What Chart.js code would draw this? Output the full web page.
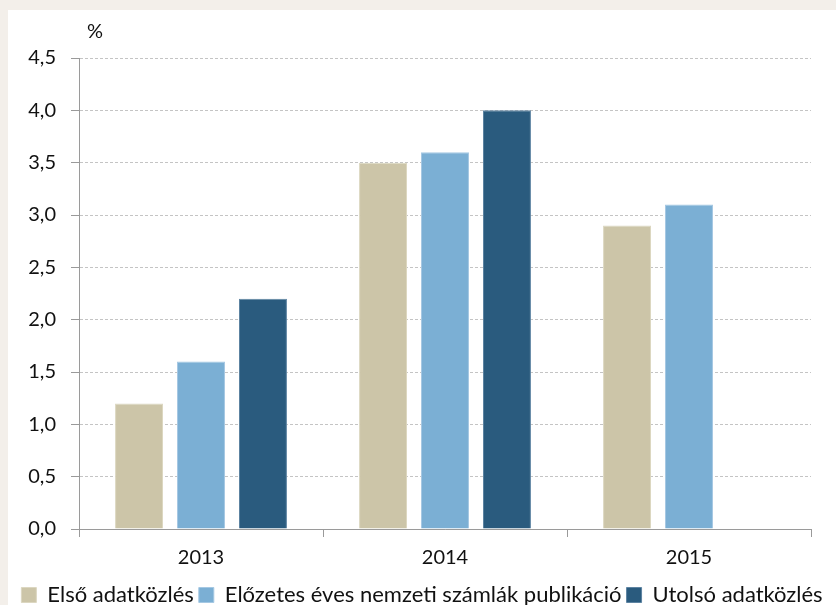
<!DOCTYPE html>
<html>
<head>
<meta charset="utf-8">
<script src="https://cdn.jsdelivr.net/npm/chart.js@4.4.1/dist/chart.umd.min.js"></script>
<style>
  html, body { margin: 0; padding: 0; background: #f3efea; }
  #wrap { position: absolute; left: 8px; top: 10px; width: 828px; height: 595px; background: #ffffff; }
</style>
</head>
<body>
<div id="wrap"><canvas id="barchart"></canvas></div>
<script>
// ==========================================
// Adatok
// ==========================================
const years = ['2013', '2014', '2015'];
const firstRelease = [1.2, 3.5, 2.9];
const prelimAccounts = [1.6, 3.6, 3.1];
const lastRelease = [2.2, 4.0, null];
const seriesNames = ['Első adatközlés', 'Előzetes éves nemzeti számlák publikáció', 'Utolsó adatközlés'];
const yTicks = [0, 0.5, 1, 1.5, 2, 2.5, 3, 3.5, 4, 4.5];
const unitLabel = '%';

const FONT = 'Lato, "Open Sans", sans-serif';

// "%" felirat a tengely fölött
const unitPlugin = {
    id: 'unitLabel',
    afterDraw(chart) {
        const ctx = chart.ctx;
        const y = chart.scales.y;
        ctx.save();
        ctx.font = '20px ' + FONT;
        ctx.fillStyle = '#111111';
        ctx.textBaseline = 'middle';
        ctx.fillText(unitLabel, y.right + 8, 22);
        ctx.restore();
    }
};

new Chart(document.getElementById('barchart'), {
    type: 'bar',
    data: {
        labels: years,
        datasets: [
            { label: seriesNames[0], data: firstRelease, backgroundColor: '#ccc5a8', borderColor: '#dcd7c1', borderWidth: 1 },
            { label: seriesNames[1], data: prelimAccounts, backgroundColor: '#7bafd4', borderColor: '#a5c8e3', borderWidth: 1 },
            { label: seriesNames[2], data: lastRelease, backgroundColor: '#2a5b7e', borderColor: '#5e84a2', borderWidth: 1 }
        ]
    },
    options: {
        responsive: true,
        maintainAspectRatio: false,
        animation: false,
        categoryPercentage: 0.762,
        barPercentage: 0.774,
        layout: { padding: { top: 48, right: 0, left: 0, bottom: -11 } },
        plugins: {
            tooltip: { enabled: false },
            legend: {
                position: 'bottom',
                labels: {
                    color: '#111111',
                    font: { family: FONT, size: 22 },
                    boxWidth: 15,
                    boxHeight: 15,
                    padding: 5
                }
            }
        },
        scales: {
            y: {
                min: 0,
                max: 4.5,
                afterBuildTicks: (s) => { s.ticks = yTicks.map(v => ({ value: v })); },
                afterFit: (s) => { s.width = 71; },
                grid: { color: '#c4c4c4', tickColor: '#9a9a9a', tickLength: 8, tickBorderDash: [] },
                border: { color: '#9a9a9a', dash: [3, 2] },
                ticks: {
                    color: '#111111',
                    padding: 15,
                    font: { family: FONT, size: 20 },
                    callback: (v) => Number(v).toFixed(1).replace('.', ',')
                }
            },
            // üres jobb oldali sáv a rajzterület mellett
            yRight: {
                position: 'right',
                afterFit: (s) => { s.width = 25; },
                grid: { drawOnChartArea: false, drawTicks: false },
                border: { display: false },
                ticks: { display: false }
            },
            x: {
                afterFit: (s) => { s.height = 50; },
                grid: { offset: true, drawOnChartArea: false, tickColor: '#9a9a9a', tickLength: 8 },
                border: { color: '#9a9a9a' },
                ticks: {
                    color: '#111111',
                    padding: 9,
                    font: { family: FONT, size: 20 }
                }
            }
        }
    },
    plugins: [unitPlugin]
});
</script>
</body>
</html>
